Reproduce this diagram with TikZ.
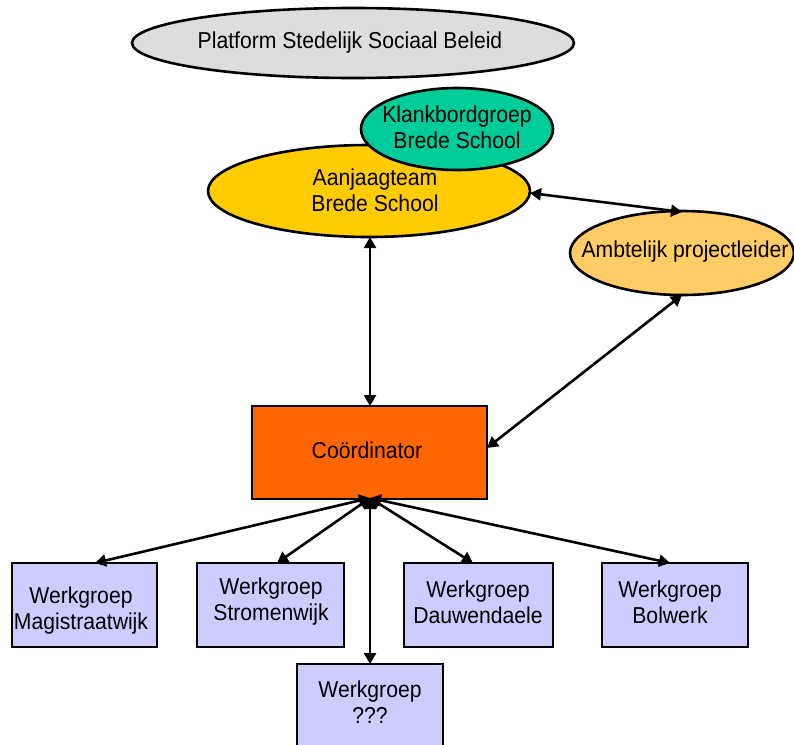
\documentclass[tikz,border=0pt]{standalone}
\usepackage{fontspec}
\setmainfont{Liberation Sans}[FakeStretch=0.92]
\usetikzlibrary{arrows.meta,shapes.geometric}
\definecolor{platgray}{HTML}{DDDDDD}
\definecolor{aanjaag}{HTML}{FFCC00}
\definecolor{klank}{HTML}{00CC99}
\definecolor{ambt}{HTML}{FFCC66}
\definecolor{coord}{HTML}{FF6600}
\definecolor{werk}{HTML}{CCCCFF}
\begin{document}
\begin{tikzpicture}[x=1pt,y=-1pt,
  txt/.style={font=\fontsize{23}{26}\selectfont, align=center, inner sep=0pt},
  ell/.style={draw=black, line width=2.6pt, ellipse},
  wbox/.style={draw=black, line width=2.6pt, fill=werk},
  conn/.style={line width=2.6pt, {Triangle[length=11pt,width=12pt]}-{Triangle[length=11pt,width=12pt]}}]
\useasboundingbox (0,0) rectangle (794,744);
% ellipses
\path[ell, fill=platgray] (353,43) ellipse [x radius=221, y radius=35];
\node[txt] (plat) at (350,43) {Platform Stedelijk Sociaal Beleid};
\path[ell, fill=aanjaag] (369,191) ellipse [x radius=161, y radius=46];
\coordinate (aanB) at (370,237);
\coordinate (aanR) at (530,193);
\path[ell, fill=klank] (457,129) ellipse [x radius=96, y radius=41];
\node[txt] (klank) at (457,127) {Klankbordgroep\\Brede School};
\node[txt] (aan) at (375,190) {Aanjaagteam\\Brede School};
\path[ell, fill=ambt] (682,253) ellipse [x radius=112, y radius=42];
\node[txt] (ambt) at (685,252) {Ambtelijk projectleider};
\coordinate (ambT) at (682,212);
\coordinate (ambB) at (682,295);
% coordinator
\path[draw=black, line width=2.6pt, fill=coord] (252,406) rectangle (487,499);
\node[txt] (coord) at (367,450) {Coördinator};
\coordinate (coB) at (370,498);
\coordinate (coR) at (487,448);
% werkgroepen
\path[wbox] (12,563) rectangle (157,647);
\node[txt] (w1) at (81,611) {Werkgroep\\Magistraatwijk};
\path[wbox] (197,563) rectangle (344,647);
\node[txt] (w2) at (271,602) {Werkgroep\\Stromenwijk};
\path[wbox] (404,563) rectangle (553,647);
\node[txt] (w3) at (478,602) {Werkgroep\\Dauwendaele};
\path[wbox] (602,563) rectangle (748,647);
\node[txt] (w4) at (670,602) {Werkgroep\\Bolwerk};
\path[wbox] (297,664) rectangle (443,760);
\node[txt] (w5) at (370,702) {Werkgroep\\???};
\coordinate (t1) at (95,563);
\coordinate (t2) at (277,563);
\coordinate (t3) at (473,563);
\coordinate (t4) at (670,563);
\coordinate (t5) at (370,664);
% connectors
\draw[conn] (aanB) -- (370,406);
\draw[conn] (aanR) -- (ambT);
\draw[conn] (ambB) -- (coR);
\draw[conn] (coB) -- (t1);
\draw[conn] (coB) -- (t2);
\draw[conn] (coB) -- (t3);
\draw[conn] (coB) -- (t4);
\draw[conn] (coB) -- (t5);
\end{tikzpicture}
\end{document}
